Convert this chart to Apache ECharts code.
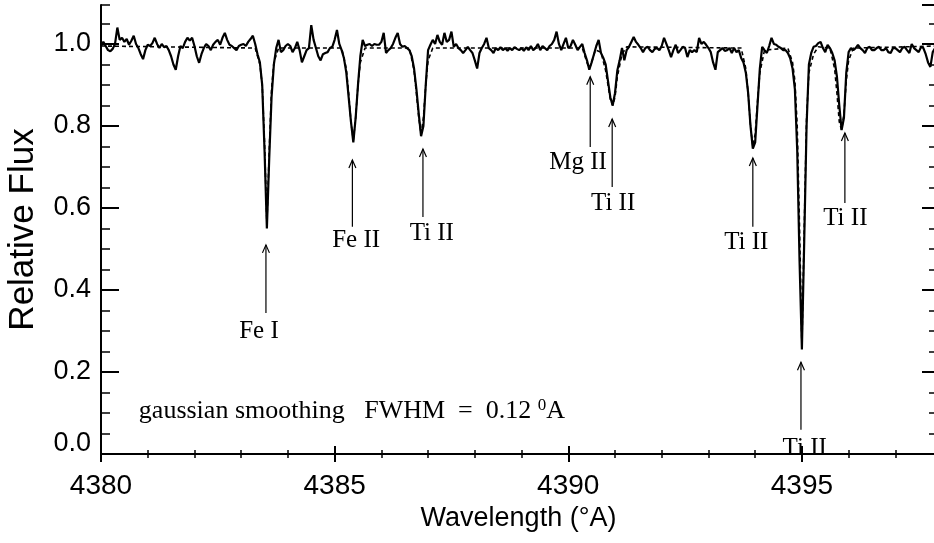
<!DOCTYPE html>
<html><head><meta charset="utf-8">
<script src="https://cdn.jsdelivr.net/npm/echarts@6/dist/echarts.min.js"></script>
<style>html,body{margin:0;padding:0;background:#fff}#c{width:934px;height:543px}</style>
</head><body><div id="c"></div>
<script>
// ---------------- data ----------------
const wlStart = 4380.0;
const wlStep = 0.05;
const observedFlux = [
0.995,1.005,0.995,0.985,0.982,0.988,1.0,1.04,1.01,1.015,
1.005,1.012,0.998,1.008,1.02,1.0,0.99,0.975,0.963,0.985,
0.998,0.995,1.002,1.015,1.0,0.99,1.0,0.992,0.995,0.985,
0.97,0.95,0.937,0.97,0.995,0.99,1.005,1.015,1.008,1.015,
0.995,0.97,0.954,0.975,0.99,1.0,0.995,0.985,0.998,1.005,
1.01,0.998,1.015,1.027,1.01,0.998,0.995,0.99,0.985,0.995,
0.998,1.0,0.995,1.005,1.012,1.02,1.0,0.975,0.955,0.90,
0.74,0.55,0.72,0.87,0.95,0.99,1.01,0.98,0.985,0.995,
1.0,0.995,0.98,0.99,1.005,0.985,0.955,0.97,0.985,0.99,
1.046,1.01,0.99,0.97,0.96,0.975,0.978,0.98,0.99,0.993,
1.01,1.034,1.0,0.985,0.965,0.93,0.87,0.81,0.76,0.82,
0.9,0.97,1.01,0.995,0.998,1.0,0.995,1.0,0.998,0.998,
1.005,1.027,0.978,0.985,0.99,1.0,1.015,1.027,1.0,0.993,
0.995,0.99,0.985,0.97,0.94,0.89,0.83,0.775,0.80,0.90,
0.985,0.998,1.01,1.0,1.022,1.005,0.998,1.027,1.005,1.01,
1.03,0.993,1.0,0.99,0.985,0.978,0.985,0.993,0.985,0.978,
0.96,0.94,0.978,0.99,1.0,1.015,0.99,0.985,0.978,0.99,
0.985,0.992,0.985,0.99,0.983,0.99,0.985,0.992,0.988,0.985,
0.99,0.983,0.992,0.985,0.995,0.985,0.99,1.0,0.985,0.995,
0.99,0.985,0.995,1.0,1.01,1.03,1.0,0.985,1.0,1.015,
0.99,0.995,1.01,0.998,0.985,0.993,1.0,0.978,0.96,0.937,
0.955,0.975,0.995,1.01,0.978,0.966,0.95,0.91,0.87,0.85,
0.88,0.935,0.96,0.99,0.96,0.985,0.993,1.005,1.017,1.005,
0.998,0.99,0.98,0.99,0.993,0.985,0.98,0.988,0.99,0.985,
0.995,1.015,1.0,0.985,0.968,0.985,0.998,0.978,0.985,0.993,
0.99,0.968,0.985,0.98,0.985,0.98,1.015,1.0,1.005,0.998,
0.99,0.98,0.955,0.937,0.98,0.985,0.99,0.983,0.985,0.99,
0.978,0.99,0.98,0.985,0.966,0.955,0.93,0.88,0.80,0.745,
0.76,0.85,0.94,0.993,0.985,0.978,0.995,1.015,1.0,0.998,
0.993,0.99,0.985,0.985,0.978,0.965,0.94,0.89,0.74,0.47,
0.255,0.52,0.80,0.95,0.978,0.993,0.995,1.002,1.005,0.99,
0.98,0.998,0.99,0.978,0.96,0.92,0.85,0.79,0.82,0.93,
0.98,0.99,0.985,0.99,0.998,0.99,0.985,0.978,0.99,0.993,
0.985,0.985,0.99,0.993,0.985,0.985,0.99,0.98,0.978,0.99,
0.99,0.985,0.98,0.99,0.993,0.985,0.978,1.0,0.99,0.985,
0.98,0.993,0.99,0.975,0.955,0.944,0.98,0.99
];
const modelWave = [
4380.00,
4383.30,4383.40,4383.45,4383.50,4383.55,4383.60,4383.65,4383.70,4383.80,
4385.15,4385.25,4385.30,4385.35,4385.40,4385.45,4385.50,4385.55,4385.65,
4386.60,4386.70,4386.75,4386.80,4386.85,4386.90,4386.95,4387.00,4387.10,
4390.30,4390.40,4390.45,4390.50,4390.58,
4390.70,4390.80,4390.85,4390.90,4390.95,4391.00,4391.05,4391.15,4391.25,
4393.70,4393.80,4393.85,4393.90,4393.95,4394.00,4394.05,4394.10,4394.20,
4394.70,4394.80,4394.85,4394.90,4394.95,4395.00,4395.05,4395.10,4395.15,4395.25,4395.35,
4395.60,4395.70,4395.75,4395.80,4395.85,4395.90,4395.95,4396.00,4396.10,
4397.90
];
const modelFlux = [
0.995,
0.99,0.95,0.90,0.76,0.56,0.74,0.89,0.955,0.99,
0.99,0.94,0.88,0.81,0.765,0.82,0.90,0.955,0.99,
0.99,0.935,0.88,0.82,0.78,0.82,0.90,0.96,0.99,
0.99,0.955,0.94,0.955,0.985,
0.98,0.935,0.90,0.865,0.85,0.87,0.92,0.975,0.993,
0.99,0.94,0.88,0.80,0.75,0.78,0.86,0.93,0.985,
0.99,0.955,0.91,0.80,0.55,0.26,0.55,0.82,0.93,0.975,0.993,
0.99,0.94,0.88,0.81,0.79,0.83,0.91,0.96,0.99,
0.995
];
const xTickLabels = [4380, 4385, 4390, 4395];
const yTickLabels = [0.0, 0.2, 0.4, 0.6, 0.8, 1.0];

// spectral line annotations
const lineNames = ['Fe I', 'Fe II', 'Ti II', 'Mg II', 'Ti II', 'Ti II', 'Ti II', 'Ti II'];
const lineWave  = [4383.53, 4385.38, 4386.89, 4390.47, 4390.94, 4393.95, 4394.98, 4395.92];
const arrowTip  = [0.510, 0.717, 0.744, 0.920, 0.817, 0.722, 0.224, 0.783];
const arrowBase = [0.344, 0.554, 0.578, 0.749, 0.651, 0.554, 0.059, 0.612];
const labelWave = [4383.38, 4385.46, 4387.08, 4390.21, 4390.96, 4393.81, 4395.06, 4395.93];
const labelFlux = [0.298, 0.522, 0.539, 0.710, 0.612, 0.515, 0.014, 0.575];
const noteText = 'gaussian smoothing   FWHM  =  0.12';
const noteWave = 4380.81, noteFlux = 0.105;

// ---------------- chart ----------------
const XMIN = 4380, XMAX = 4397.87, YMIN = 0, YMAX = 1.095;
const SANS = "'Liberation Sans', Arial, Helvetica, sans-serif";
const SERIF = "'Liberation Serif', 'Times New Roman', serif";

const observed = observedFlux.map((f, i) => [+(wlStart + i * wlStep).toFixed(2), f]);
const model = modelWave.map((w, i) => [w, modelFlux[i]]);
const annot = lineWave.map((w, i) => [w, arrowTip[i], arrowBase[i], labelWave[i], labelFlux[i], i]);

function xAx(pos, interval, len, main, labels) {
  return {
    type: 'value', position: pos, min: XMIN, max: XMAX, interval: interval,
    axisLine: { show: main, lineStyle: { color: '#000', width: 2 } },
    axisTick: { show: true, inside: true, length: len, lineStyle: { color: '#000', width: main ? 2 : 1.5 } },
    axisLabel: labels ? {
      show: true, color: '#000', fontSize: 28, fontFamily: SANS, margin: 18, showMaxLabel: false,
      formatter: v => xTickLabels.includes(Math.round(v)) && Math.abs(v - Math.round(v)) < 1e-6 ? String(Math.round(v)) : ''
    } : { show: false },
    splitLine: { show: false }
  };
}
function yAx(pos, interval, len, main, labels) {
  return {
    type: 'value', position: pos, min: YMIN, max: YMAX, interval: interval,
    axisLine: { show: main, lineStyle: { color: '#000', width: 2 } },
    axisTick: { show: true, inside: true, length: len, lineStyle: { color: '#000', width: main ? 2 : 1.5 } },
    axisLabel: labels ? {
      show: true, color: '#000', fontSize: 27, fontFamily: SANS, margin: 10, showMaxLabel: false,
      formatter: v => {
        const hit = yTickLabels.find(t => Math.abs(t - v) < 1e-6);
        if (hit === undefined) return '';
        if (hit === 0) return '{z|' + hit.toFixed(1) + '}';
        return hit.toFixed(1);
      },
      rich: { z: { fontSize: 27, fontFamily: SANS, color: '#000', padding: [0, 0, 20, 0] } }
    } : { show: false },
    splitLine: { show: false }
  };
}

const xMain = xAx('bottom', 5, 8, true, true);
xMain.name = 'Wavelength (°A)';
xMain.nameLocation = 'middle';
xMain.nameGap = 50;
xMain.nameTextStyle = { fontSize: 27, fontFamily: SANS, color: '#000' };
const yMain = yAx('left', 0.2, 18, true, true);
yMain.name = 'Relative Flux';
yMain.nameLocation = 'middle';
yMain.nameGap = 60;
yMain.nameTextStyle = { fontSize: 35, fontFamily: SANS, color: '#000' };

const chart = echarts.init(document.getElementById('c'), null, { renderer: 'canvas' });
chart.setOption({
  animation: false,
  backgroundColor: '#fff',
  grid: { left: 101, top: 5, width: 835, height: 449, containLabel: false, outerBoundsMode: 'none' },
  xAxis: [
    xMain,
    xAx('bottom', 1, 4, false, false),
    xAx('top', 5, 8, true, false),
    xAx('top', 1, 4, false, false)
  ],
  yAxis: [
    yMain,
    yAx('left', 0.05, 9, false, false),
    yAx('right', 0.2, 14, true, false),
    yAx('right', 0.05, 7, false, false)
  ],
  series: [
    {
      type: 'line', xAxisIndex: 0, yAxisIndex: 0, data: model, showSymbol: false,
      lineStyle: { color: '#000', width: 1.6, type: [4, 3] }, z: 2
    },
    {
      type: 'line', xAxisIndex: 0, yAxisIndex: 0, data: observed, showSymbol: false,
      lineStyle: { color: '#000', width: 2.2 }, z: 3
    },
    {
      type: 'custom', xAxisIndex: 0, yAxisIndex: 0, data: annot, clip: false, z: 4,
      renderItem: (params, api) => {
        const tip = api.coord([api.value(0), api.value(1)]);
        const base = api.coord([api.value(0), api.value(2)]);
        const lab = api.coord([api.value(3), api.value(4)]);
        const idx = api.value(5);
        return {
          type: 'group', children: [
            { type: 'line', shape: { x1: tip[0], y1: tip[1], x2: base[0], y2: base[1] },
              style: { stroke: '#000', lineWidth: 1.2 } },
            { type: 'polyline', shape: { points: [[tip[0] - 3.5, tip[1] + 8], [tip[0], tip[1]], [tip[0] + 3.5, tip[1] + 8]] },
              style: { stroke: '#000', fill: null, lineWidth: 1.2 } },
            { type: 'text', x: lab[0], y: lab[1],
              style: { text: lineNames[idx], fontSize: 25, fontFamily: SERIF, fill: '#000', align: 'center', verticalAlign: 'middle' } }
          ]
        };
      }
    },
    {
      type: 'custom', xAxisIndex: 0, yAxisIndex: 0, data: [[noteWave, noteFlux]], clip: false, z: 4,
      renderItem: (params, api) => {
        const p = api.coord([api.value(0), api.value(1)]);
        return {
          type: 'text', x: p[0], y: p[1],
          style: {
            text: noteText + ' {sup|0}{a|A}', fontSize: 26, fontFamily: SERIF, fill: '#000',
            align: 'left', verticalAlign: 'middle',
            rich: {
              sup: { fontSize: 17, fontFamily: SERIF, verticalAlign: 'top', padding: [0, 0, 10, 0] },
              a: { fontSize: 26, fontFamily: SERIF }
            }
          }
        };
      }
    }
  ]
});
</script>
</body></html>
